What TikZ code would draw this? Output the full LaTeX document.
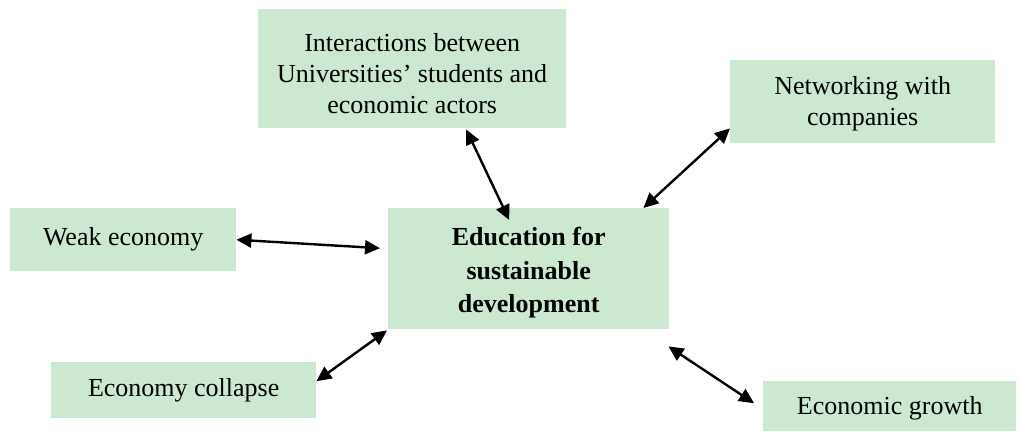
\documentclass[tikz,border=0pt]{standalone}
\usepackage{fontspec}
\setmainfont{Liberation Serif}
\usetikzlibrary{arrows.meta,calc}
\definecolor{boxgreen}{RGB}{205,232,208}
\tikzset{
  box/.style={fill=boxgreen, draw=none, inner sep=0pt, align=center, anchor=north west,
    font=\fontsize{26}{31}\selectfont},
  link/.style={line width=2.4pt, {Triangle[length=15pt,width=14pt]}-{Triangle[length=15pt,width=14pt]}}
}
\begin{document}
\begin{tikzpicture}[x=1pt,y=-1pt]
\useasboundingbox (0,0) rectangle (1019,431);
\node[box, minimum width=308pt, minimum height=119pt] (top) at (258,9)
  {\rule{0pt}{28pt}Interactions between\\Universities’ students and\\economic actors};
\node[box, minimum width=265pt, minimum height=83pt] (net) at (730,60)
  {\rule{0pt}{23pt}Networking with\\companies};
\node[box, minimum width=226pt, minimum height=63pt] (weak) at (10,208)
  {Weak economy};
\node[box, minimum width=281pt, minimum height=121pt, font=\fontsize{26}{33.5}\selectfont\bfseries] (edu) at (388,208)
  {\rule{0pt}{27pt}Education for\\sustainable\\development};
\node[box, minimum width=265pt, minimum height=56pt] (coll) at (51,362)
  {Economy collapse};
\node[box, minimum width=253pt, minimum height=50pt] (grow) at (763,381)
  {\rule{0pt}{22pt}Economic growth};
\draw[link] ($(top.south)+(54,1)$) -- ($(edu.north)+(-19.5,12)$);
\draw[link] ($(net.south west)+(0,-15)$) -- ($(edu.north east)+(-26,0)$);
\draw[link] (weak.east) -- ($(edu.west)+(-8,-20.5)$);
\draw[link] ($(edu.south west)+(-1,1)$) -- ($(coll.east)+(0,-9)$);
\draw[link] ($(edu.south east)+(-1,17)$) -- ($(grow.west)+(-9,-3)$);
\end{tikzpicture}
\end{document}
